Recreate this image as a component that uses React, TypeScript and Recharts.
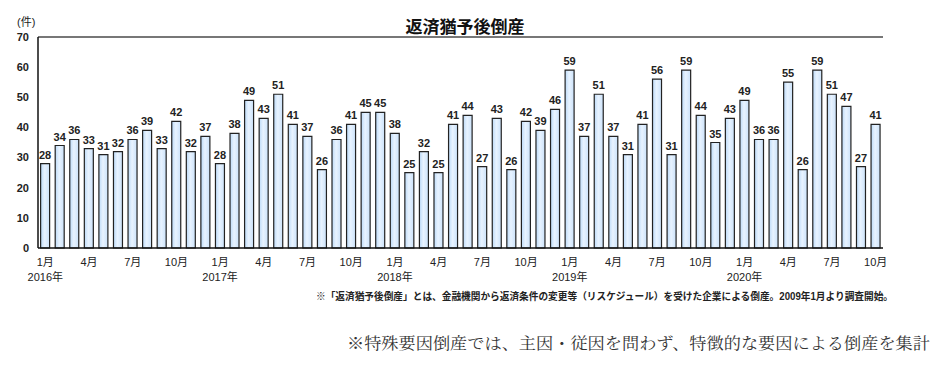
import React from "react";
import { BarChart, Bar, XAxis, YAxis, LabelList, ReferenceLine } from "recharts";

const years = ["2016年", "2017年", "2018年", "2019年", "2020年"];
const monthLabels = ["1月", "2月", "3月", "4月", "5月", "6月", "7月", "8月", "9月", "10月", "11月", "12月"];
const shownMonths = ["1月", "4月", "7月", "10月"];
const values2016 = [28, 34, 36, 33, 31, 32, 36, 39, 33, 42, 32, 37];
const values2017 = [28, 38, 49, 43, 51, 41, 37, 26, 36, 41, 45, 45];
const values2018 = [38, 25, 32, 25, 41, 44, 27, 43, 26, 42, 39, 46];
const values2019 = [59, 37, 51, 37, 31, 41, 56, 31, 59, 44, 35, 43];
const values2020 = [49, 36, 36, 55, 26, 59, 51, 47, 27, 41];
const yTicks = [0, 10, 20, 30, 40, 50, 60, 70];
const title = "返済猶予後倒産";
const unitLabel = "(件)";
const footnote = "※「返済猶予後倒産」とは、金融機関から返済条件の変更等（リスケジュール）を受けた企業による倒産。2009年1月より調査開始。";
const bottomNote = "※特殊要因倒産では、主因・従因を問わず、特徴的な要因による倒産を集計";

const seriesByYear = [values2016, values2017, values2018, values2019, values2020];
const data = seriesByYear.flatMap((vals, yi) =>
  vals.map((v, mi) => ({
    key: `${years[yi]}${monthLabels[mi]}`,
    month: monthLabels[mi],
    year: mi === 0 ? years[yi] : "",
    value: v,
  }))
);

const FONT = "'Liberation Sans', Arial, 'Noto Sans CJK JP', sans-serif";

const MonthTick = (props: any) => {
  const { x, y, index } = props;
  const d = data[index];
  if (!d || !shownMonths.includes(d.month)) return null;
  return (
    <g>
      <text x={x} y={y + 10} textAnchor="middle" fontSize={11} fontFamily={FONT} fill="#222">
        {d.month}
      </text>
      {d.year && (
        <text x={x} y={y + 25} textAnchor="middle" fontSize={11} fontFamily={FONT} fill="#222">
          {d.year}
        </text>
      )}
    </g>
  );
};

export default function App() {
  return (
    <div style={{ position: "absolute", left: 0, top: 0, width: 942, height: 372, background: "#fff" }}>
      <BarChart
        width={942}
        height={372}
        data={data}
        margin={{ top: 37, right: 59, bottom: 84, left: 0 }}
        barCategoryGap="18%"
      >
        <defs>
          <linearGradient id="barGrad" x1="0" y1="0" x2="1" y2="0">
            <stop offset="0%" stopColor="#bcdaf8" />
            <stop offset="45%" stopColor="#e8f3ff" />
            <stop offset="100%" stopColor="#cbe2fa" />
          </linearGradient>
        </defs>
        <XAxis
          dataKey="key"
          interval={0}
          tick={<MonthTick />}
          tickLine={false}
          axisLine={{ stroke: "#111", strokeWidth: 1.5 }}
          height={40}
        />
        <YAxis
          yAxisId="left"
          domain={[0, 70]}
          ticks={yTicks}
          width={38}
          tickLine={false}
          tickSize={0}
          tickMargin={9}
          axisLine={{ stroke: "#111", strokeWidth: 1.5 }}
          tick={{ fontSize: 11, fontFamily: FONT, fill: "#222", fontWeight: "bold" }}
          interval={0}
        />
        <YAxis
          yAxisId="right"
          orientation="right"
          domain={[0, 70]}
          width={0}
          tick={false}
          tickLine={false}
          axisLine={{ stroke: "#777", strokeWidth: 2 }}
        />
        <ReferenceLine yAxisId="left" y={70} stroke="#777" strokeWidth={2} />
        <Bar
          yAxisId="left"
          dataKey="value"
          fill="url(#barGrad)"
          stroke="#222"
          strokeWidth={1.2}
          isAnimationActive={false}
        >
          <LabelList
            dataKey="value"
            position="top"
            offset={5}
            fontSize={11}
            fontWeight="bold"
            fontFamily={FONT}
            fill="#222"
          />
        </Bar>
      </BarChart>
      <svg width={942} height={372} style={{ position: "absolute", left: 0, top: 0, pointerEvents: "none" }}>
        <text x={465} y={33} textAnchor="middle" fontSize={17} fontWeight="bold" fontFamily={FONT} fill="#111">
          {title}
        </text>
        <text x={17} y={26} fontSize={11} fontFamily={FONT} fill="#222">
          {unitLabel}
        </text>
        <text
          x={316}
          y={300}
          fontSize={10}
          fontWeight="bold"
          fontFamily={FONT}
          fill="#222"
          textLength={577}
          lengthAdjust="spacingAndGlyphs"
        >
          {footnote}
        </text>
        <text
          x={347}
          y={349}
          fontSize={16}
          fontFamily="'Noto Serif CJK JP', serif"
          fill="#333"
          textLength={583}
          lengthAdjust="spacingAndGlyphs"
        >
          {bottomNote}
        </text>
      </svg>
    </div>
  );
}
